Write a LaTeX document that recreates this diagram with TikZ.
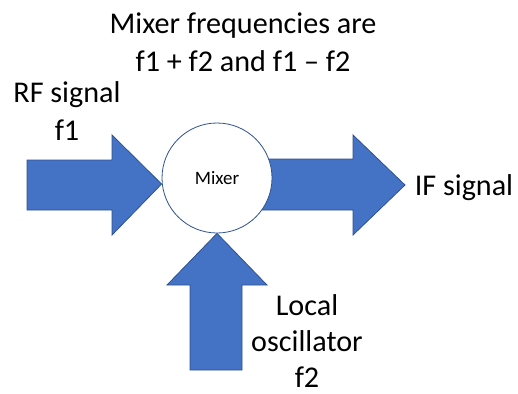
\documentclass[tikz,border=0pt]{standalone}
\usepackage{fontspec}
\setmainfont{Carlito}
\definecolor{arrowblue}{HTML}{4472C4}
\definecolor{edgeblue}{HTML}{2F528F}
\begin{document}
\begin{tikzpicture}[x=0.75pt,y=-0.75pt,
  blockarrow/.style={fill=arrowblue,draw=edgeblue,line width=0.6pt,line join=miter},
  bigtext/.style={font=\fontsize{22.6}{27}\selectfont,anchor=base,inner sep=0pt},
  mixercircle/.style={circle,draw=edgeblue,fill=white,line width=0.6pt,minimum size=110*0.75pt,inner sep=0pt,font=\fontsize{14.2}{17}\selectfont}]
\useasboundingbox (0,0) rectangle (518,393);
% right arrow (under the circle)
\draw[blockarrow] (262,159) -- (353,159) -- (353,135) -- (405,185) -- (353,235) -- (353,210) -- (262,210) -- cycle;
% mixer
\node[mixercircle] (mixer) at (217,178) {Mixer};
% left arrow
\draw[blockarrow] (27,160) -- (112,160) -- (112,135) -- (mixer.west |- 0,184) -- (112,235) -- (112,210) -- (27,210) -- cycle;
% bottom arrow
\draw[blockarrow] (190,370) -- (190,285) -- (167,285) -- (mixer.south) -- (267,285) -- (242,285) -- (242,370) -- cycle;
% labels
\node[bigtext] (head1) at (243,33) {Mixer frequencies are};
\node[bigtext] (head2) at (243,71) {f1 + f2 and f1 – f2};
\node[bigtext] (rf1) at (67,102) {RF signal};
\node[bigtext] (rf2) at (67,140) {f1};
\node[bigtext] (ifsig) at (464,195) {IF signal};
\node[bigtext] (lo1) at (307,315) {Local};
\node[bigtext] (lo2) at (307,351) {oscillator};
\node[bigtext] (lo3) at (307,387) {f2};
\end{tikzpicture}
\end{document}
